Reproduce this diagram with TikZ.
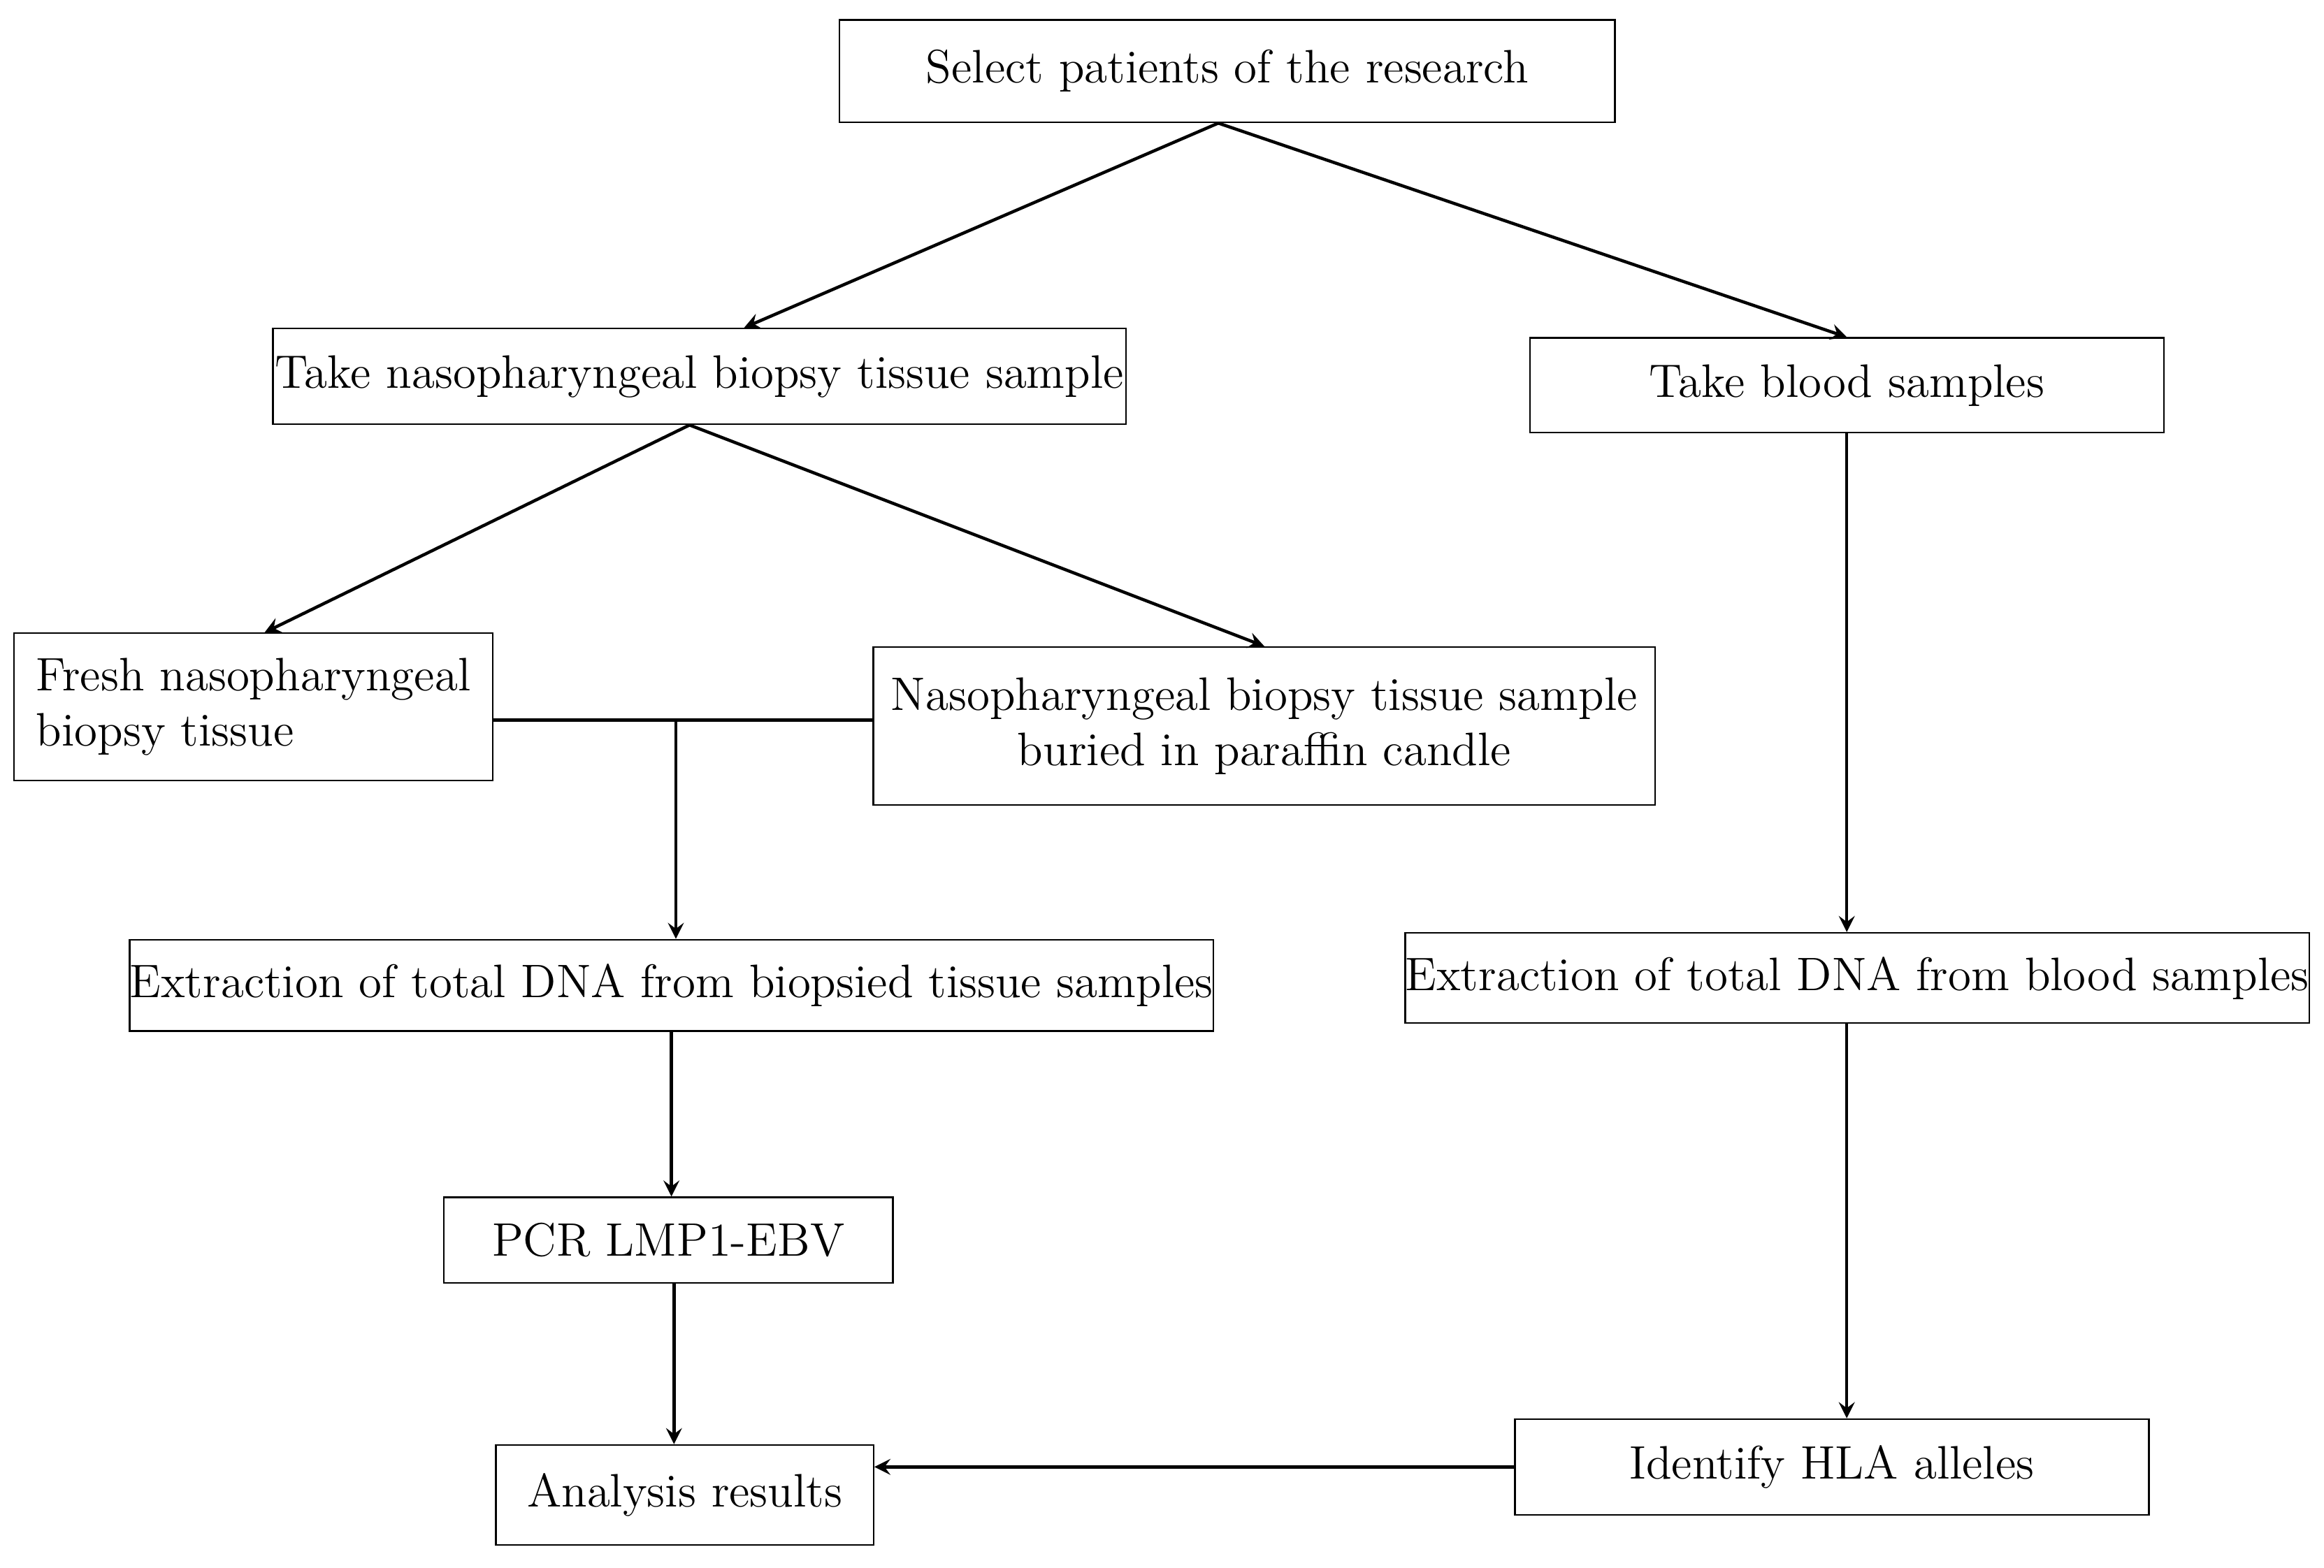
\documentclass[tikz,border=0pt]{standalone}
\usetikzlibrary{arrows}
\begin{document}
\begin{tikzpicture}[x=0.0133cm,y=-0.0133cm]
		\tikzstyle{Step} = [rectangle, inner sep=0pt, text centered, draw=black, fill=white, font=\large]
		\tikzstyle{arrow} = [thick,->,>=stealth]
		\useasboundingbox (0,0) rectangle (1568,1058);
		
		\node (select) [Step, minimum width=6.96cm, minimum height=0.92cm] at (828,48) {Select patients of the research};
		\node (biopsy) [Step, minimum width=7.66cm, minimum height=0.86cm] at (472,254) {Take nasopharyngeal biopsy tissue sample};
		\node (blood) [Step, minimum width=5.69cm, minimum height=0.85cm] at (1246,260) {Take blood samples};
		\node (fresh) [Step, minimum width=4.30cm, minimum height=1.32cm, align=left] at (171,477) {Fresh nasopharyngeal\\ biopsy tissue};
		\node (paraffin) [Step, minimum width=7.02cm, minimum height=1.42cm, align=center] at (853,490) {Nasopharyngeal biopsy tissue sample\\ buried in paraffin candle};
		\node (tissueDNA) [Step, minimum width=9.71cm, minimum height=0.82cm] at (453,665) {Extraction of total DNA from biopsied tissue samples};
		\node (bloodDNA) [Step, minimum width=8.07cm, minimum height=0.81cm] at (1253,660) {Extraction of total DNA from blood samples};
		\node (pcr) [Step, minimum width=4.03cm, minimum height=0.77cm] at (451,837) {PCR LMP1-EBV};
		\node (analysis) [Step, minimum width=3.39cm, minimum height=0.90cm] at (462,1009) {Analysis results};
		\node (hla) [Step, minimum width=5.69cm, minimum height=0.86cm] at (1236,990) {Identify HLA alleles};
		
		\coordinate (join) at (456,486);
		\draw [arrow] ([xshift=-0.08cm]select.south) -- ([xshift=0.4cm]biopsy.north);
		\draw [arrow] ([xshift=-0.08cm]select.south) -- (blood.north);
		\draw [arrow] ([xshift=-0.09cm]biopsy.south) -- ([xshift=0.1cm]fresh.north);
		\draw [arrow] ([xshift=-0.09cm]biopsy.south) -- (paraffin.north);
		\draw [thick] (fresh.east |- join) -- (paraffin.west |- join);
		\draw [arrow] (join) -- (join |- tissueDNA.north);
		\draw [arrow] (blood.south) -- (blood.south |- bloodDNA.north);
		\draw [arrow] (tissueDNA.south) -- (tissueDNA.south |- pcr.north);
		\draw [arrow] ([xshift=0.05cm]pcr.south) -- ([xshift=0.05cm]pcr.south |- analysis.north);
		\draw [arrow] (blood.south |- bloodDNA.south) -- (blood.south |- hla.north);
		\draw [arrow] (hla.west) -- (analysis.east |- hla.west);
\end{tikzpicture}
\end{document}
